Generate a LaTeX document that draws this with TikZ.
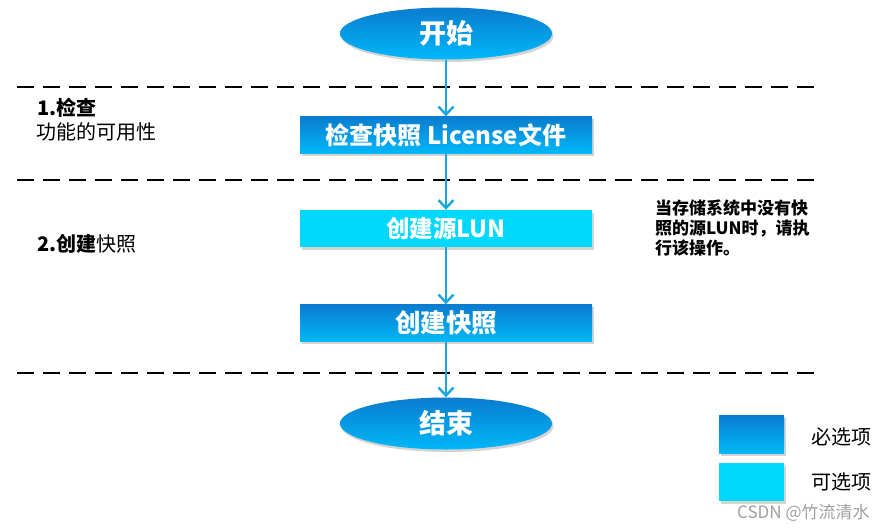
\documentclass[tikz,border=0pt]{standalone}
\usepackage{fontspec}
\setmainfont{Noto Sans CJK SC}
\usetikzlibrary{shapes.geometric,arrows.meta,shadows}
\definecolor{dtop}{HTML}{0A7CCF}
\definecolor{dbot}{HTML}{00B8F8}
\definecolor{cyanbox}{HTML}{00D8FE}
\definecolor{arrowc}{HTML}{17A6E2}
\begin{document}
\begin{tikzpicture}[x=1pt,y=-1pt,
  shd/.style={drop shadow={shadow xshift=1.5pt,shadow yshift=-2.5pt,opacity=0.35,fill=gray}},
  startend/.style={ellipse,minimum width=212pt,minimum height=52pt,inner sep=0pt,
    top color=dtop,bottom color=dbot,shd,text=white,font=\fontsize{27}{30}\selectfont\bfseries},
  reqbox/.style={rectangle,minimum width=292pt,minimum height=37pt,inner sep=0pt,
    top color=dtop,bottom color=dbot,shd,text=white,font=\fontsize{25.5}{28}\selectfont\bfseries},
  optbox/.style={rectangle,minimum width=292pt,minimum height=37pt,inner sep=0pt,
    fill=cyanbox,shd,text=white,font=\fontsize{25.5}{28}\selectfont\bfseries},
  flow/.style={draw=arrowc,line width=2.6pt,-{Straight Barb[length=8pt,width=15pt,line width=2.4pt]}},
  sep/.style={draw=black,line width=2pt,dash pattern=on 17pt off 9pt},
  lbl/.style={anchor=base west,inner sep=0pt,font=\fontsize{20}{24}\selectfont}
]
\useasboundingbox (0,0) rectangle (889,531);

% separators
\coordinate (s1a) at (17,87);  \coordinate (s1b) at (822,87);
\coordinate (s2a) at (17,180); \coordinate (s2b) at (822,180);
\coordinate (s3a) at (17,373); \coordinate (s3b) at (822,373);
\draw[sep] (s1a) -- (s1b);
\draw[sep] (s2a) -- (s2b);
\draw[sep] (s3a) -- (s3b);

% flow nodes
\node[startend] (start) at (446,33.5) {开始};
\node[reqbox,font=\fontsize{24}{28}\selectfont\bfseries] (check) at (446,135) {检查快照 License文件};
\node[optbox,font=\fontsize{23.5}{28}\selectfont\bfseries] (src) at (446,228.5) {创建源LUN};
\node[reqbox] (snap) at (446,323) {创建快照};
\node[startend] (end) at (446,423.5) {结束};

\draw[flow] (start) -- (check);
\draw[flow] (check) -- (src);
\draw[flow] (src) -- (snap);
\draw[flow] (snap) -- (end);

% left labels
\node[lbl] (l1) at (37,115) {\bfseries 1.检查};
\node[lbl] (l1b) at (36,139) {功能的可用性};
\node[lbl] (l2) at (37,251) {\bfseries 2.创建\mdseries 快照};

% note
\node[anchor=north west,align=left,inner sep=0pt,font=\fontsize{17}{20}\selectfont\bfseries] (note) at (655,200)
  {当存储系统中没有快\\照的源LUN时，请执\\行该操作。};

% legend
\node[rectangle,minimum width=65pt,minimum height=38pt,inner sep=0pt,top color=dtop,bottom color=dbot,shd] (leg1) at (751.5,434) {};
\node[rectangle,minimum width=65pt,minimum height=38pt,inner sep=0pt,fill=cyanbox,shd] (leg2) at (751.5,482) {};
\node[anchor=west,inner sep=0pt,font=\fontsize{20}{24}\selectfont] (leg1t) at (811,437) {必选项};
\node[anchor=west,inner sep=0pt,font=\fontsize{20}{24}\selectfont] (leg2t) at (811,482) {可选项};

% watermark
\node[anchor=west,inner sep=0pt,text=gray!75,font=\fontsize{17}{20}\selectfont] (wm) at (737,513) {CSDN @竹流清水};
\end{tikzpicture}
\end{document}
